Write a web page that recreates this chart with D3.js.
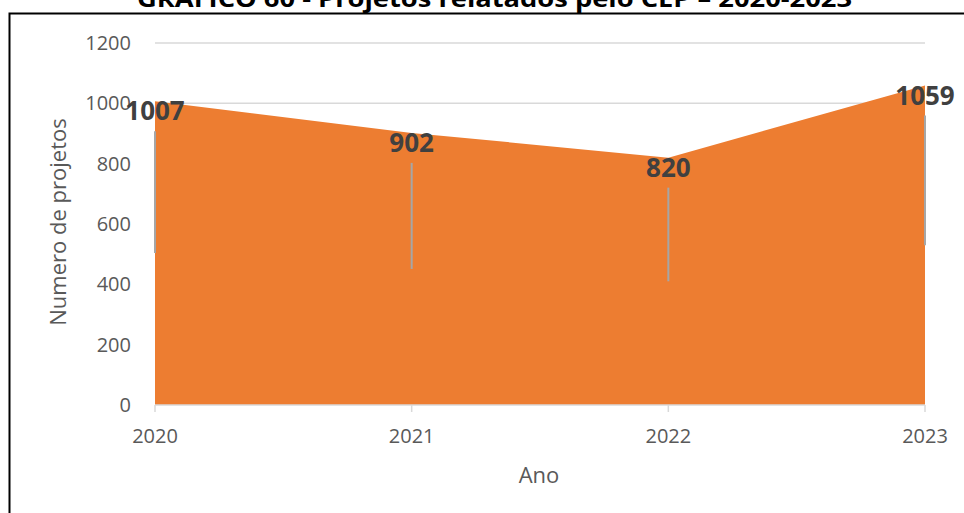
<!DOCTYPE html>
<html>
<head>
<meta charset="utf-8">
<script src="https://cdn.jsdelivr.net/npm/d3@7"></script>
<style>
  body { margin: 0; background: #fff; }
  text { font-family: "Open Sans", sans-serif; }
</style>
</head>
<body>
<div id="chart"></div>
<script>
// data
var years = ["2020", "2021", "2022", "2023"];
var projetos = [1007, 902, 820, 1059];
var yTicks = [0, 200, 400, 600, 800, 1000, 1200];

var chartTitle = "GRÁFICO 60 - Projetos relatados pelo CEP – 2020-2023";
var xTitle = "Ano";
var yTitle = "Numero de projetos";

var width = 964, height = 513;
var plot = { left: 155, right: 925, top: 43, bottom: 405 };

var svg = d3.select("#chart").append("svg")
  .attr("width", width)
  .attr("height", height);

// outer frame (runs off the right and bottom edge)
svg.append("rect")
  .attr("x", 9.5).attr("y", 13.5)
  .attr("width", width + 10).attr("height", height + 10)
  .attr("fill", "none")
  .attr("stroke", "#000")
  .attr("stroke-width", 2);

// title, cut at the top like in the source
svg.append("text")
  .attr("x", 137).attr("y", 7)
  .attr("textLength", 715)
  .attr("lengthAdjust", "spacingAndGlyphs")
  .attr("font-size", 24)
  .attr("font-weight", "bold")
  .attr("fill", "#000")
  .text(chartTitle);

var x = d3.scalePoint()
  .domain(years)
  .range([plot.left, plot.right]);

var y = d3.scaleLinear()
  .domain([0, 1200])
  .range([plot.bottom, plot.top]);

// gridlines
svg.append("g")
  .selectAll("line")
  .data(yTicks.filter(d => d > 0))
  .enter().append("line")
  .attr("x1", plot.left).attr("x2", plot.right)
  .attr("y1", d => y(d)).attr("y2", d => y(d))
  .attr("stroke", "#d9d9d9")
  .attr("stroke-width", 1.5);

// area
var rows = years.map((yr, i) => ({ year: yr, value: projetos[i] }));

var area = d3.area()
  .x(d => x(d.year))
  .y0(y(0))
  .y1(d => y(d.value));

svg.append("path")
  .datum(rows)
  .attr("d", area)
  .attr("fill", "#ED7D31");

// x axis line + ticks
svg.append("line")
  .attr("x1", plot.left).attr("x2", plot.right)
  .attr("y1", y(0)).attr("y2", y(0))
  .attr("stroke", "#d9d9d9")
  .attr("stroke-width", 1.5);

svg.append("g")
  .selectAll("line")
  .data(years)
  .enter().append("line")
  .attr("x1", d => x(d)).attr("x2", d => x(d))
  .attr("y1", y(0)).attr("y2", y(0) + 7)
  .attr("stroke", "#d9d9d9")
  .attr("stroke-width", 1.5);

// y tick labels
svg.append("g")
  .selectAll("text")
  .data(yTicks)
  .enter().append("text")
  .attr("x", 131)
  .attr("y", d => y(d))
  .attr("dy", "0.35em")
  .attr("text-anchor", "end")
  .attr("font-size", 20)
  .attr("fill", "#595959")
  .text(d => d);

// x tick labels
svg.append("g")
  .selectAll("text")
  .data(years)
  .enter().append("text")
  .attr("x", d => x(d))
  .attr("y", 443)
  .attr("text-anchor", "middle")
  .attr("font-size", 20)
  .attr("fill", "#595959")
  .text(d => d);

// axis titles
svg.append("text")
  .attr("x", 539).attr("y", 483)
  .attr("text-anchor", "middle")
  .attr("font-size", 22)
  .attr("fill", "#595959")
  .text(xTitle);

svg.append("text")
  .attr("transform", "translate(66," + 222 + ") rotate(-90)")
  .attr("text-anchor", "middle")
  .attr("font-size", 22)
  .attr("fill", "#595959")
  .text(yTitle);

// leader lines from the moved data labels down to the middle of the area
svg.append("g")
  .selectAll("line")
  .data(rows)
  .enter().append("line")
  .attr("x1", d => x(d.year)).attr("x2", d => x(d.year))
  .attr("y1", d => y(d.value) + 30)
  .attr("y2", d => y(d.value / 2))
  .attr("stroke", "#a6a6a6")
  .attr("stroke-width", 2);

// data labels
svg.append("g")
  .selectAll("text")
  .data(rows)
  .enter().append("text")
  .attr("x", d => x(d.year))
  .attr("y", d => y(d.value) + 19)
  .attr("text-anchor", "middle")
  .attr("font-size", 26)
  .attr("font-weight", "bold")
  .attr("fill", "#404040")
  .text(d => d.value);
</script>
</body>
</html>
